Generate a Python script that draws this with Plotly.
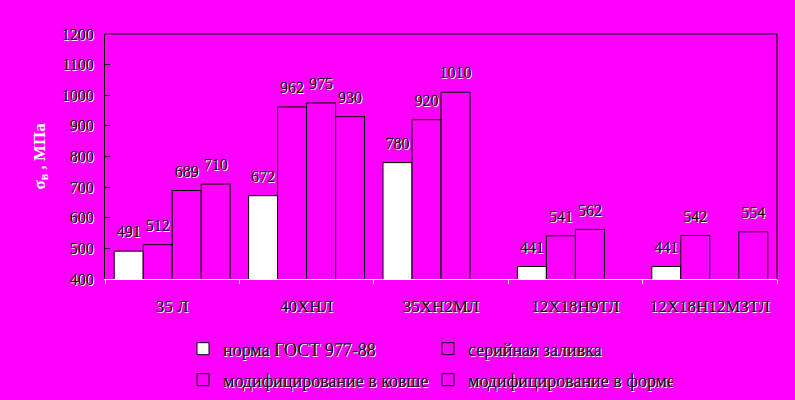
import plotly.graph_objects as go

categories = ["35 Л", "40ХНЛ", "35ХН2МЛ", "12Х18Н9ТЛ", "12Х18Н12МЗТЛ"]
norma = [491, 672, 780, 441, 441]
serial = [512, 962, 920, 541, 542]
ladle = [689, 975, 1010, 562, None]
form = [710, 930, None, None, 554]

names = ["норма ГОСТ 977-88", "серийная заливка",
         "модифицирование в ковше", "модифицирование в форме"]
ytick_vals = [400, 500, 600, 700, 800, 900, 1000, 1100, 1200]
ytick_text = ["400", "500", "600", "700", "800", "900", "1000", "1100", "1200"]

MAG = "#FF00FF"
FONT = "Liberation Serif"
shadow = "1px 1px 0px white"

fig = go.Figure()
series = [norma, serial, ladle, form]
fills = ["white", MAG, MAG, MAG]
legends = ["legend", "legend", "legend2", "legend2"]
for i, (name, vals, fill, lg) in enumerate(zip(names, series, fills, legends)):
    fig.add_trace(go.Bar(
        x=categories, y=vals, name=name, legend=lg, offsetgroup=str(i),
        marker=dict(color=fill, line=dict(color="black", width=1)),
    ))
for i, vals in enumerate(series):
    cats = [c for c, v in zip(categories, vals) if v is not None]
    ys = [v for v in vals if v is not None]
    fig.add_trace(go.Scatter(
        x=cats, y=ys, mode="markers+text", offsetgroup=str(i),
        marker=dict(size=14, opacity=0), showlegend=False, hoverinfo="skip",
        text=[str(v) for v in ys],
        textposition="top center", cliponaxis=False,
        textfont=dict(family=FONT, size=16, color="black", shadow=shadow),
    ))

legend_common = dict(orientation="h", entrywidth=200, entrywidthmode="pixels",
                     bgcolor="rgba(0,0,0,0)",
                     font=dict(family=FONT, size=18, color="black", shadow=shadow),
                     xanchor="left", yanchor="middle", traceorder="normal")

fig.update_layout(
    width=795, height=400,
    paper_bgcolor=MAG, plot_bgcolor=MAG,
    margin=dict(l=105, r=18, t=34, b=121, autoexpand=False),
    barmode="group", bargap=0.137, bargroupgap=0,
    scattermode="group", scattergap=0.137,
    showlegend=True,
    legend=dict(x=(183 - 105) / 672, y=-(349 - 279) / 245, **legend_common),
    legend2=dict(x=(183 - 105) / 672, y=-(380 - 279) / 245, **legend_common),
    xaxis=dict(showline=True, linecolor="white", linewidth=1,
               ticks="outside", tickson="boundaries", tickcolor="white", ticklen=4,
               tickfont=dict(family=FONT, size=17, color="black", shadow=shadow),
               ticklabelstandoff=12, showgrid=False),
    yaxis=dict(range=[400, 1200], showline=True, linecolor="black",
               linewidth=1, ticks="inside", ticklen=5, tickcolor="black",
               tickvals=ytick_vals, ticktext=ytick_text,
               ticklabelstandoff=7,
               tickfont=dict(family=FONT, size=16, color="black", shadow=shadow),
               showgrid=False, zeroline=False),
    annotations=[dict(text="<b>σ<sub>в</sub> , МПа</b>", xref="paper", yref="paper",
                      x=-(105 - 40) / 672, y=0.5, xanchor="center", yanchor="middle",
                      textangle=-90, showarrow=False,
                      font=dict(family=FONT, size=17, color="white"))],
    shapes=[dict(type="line", xref="paper", yref="paper", x0=0, x1=1, y0=1, y1=1,
                 line=dict(color="black", width=1)),
            dict(type="line", xref="paper", yref="paper", x0=1, x1=1, y0=0, y1=1,
                 line=dict(color="black", width=1))],
)

fig.write_html("out.html", config={"displayModeBar": False},
               post_script="document.body.style.margin='0';document.body.style.background='#FF00FF';")
